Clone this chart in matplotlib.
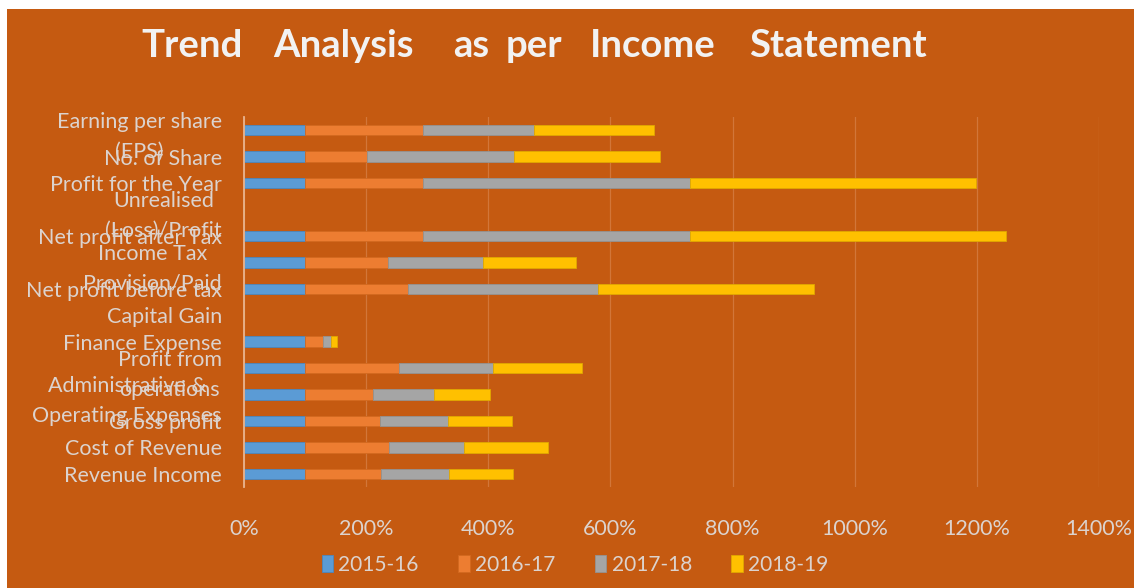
import matplotlib
matplotlib.use("Agg")
import matplotlib.pyplot as plt
from matplotlib.patches import Rectangle, Patch
import numpy as np

# ---------------- data ----------------
categories = [
    "Revenue Income",
    "Cost of Revenue",
    "Gross profit",
    "Administrative &\nOperating Expenses",
    "Profit from\noperations",
    "Finance Expense",
    "Capital Gain",
    "Net profit before tax",
    "Income Tax\nProvision/Paid",
    "Net profit after Tax",
    "Unrealised\n(Loss)/Profit",
    "Profit for the Year",
    "No. of Share",
    "Earning per share\n(EPS)",
]
years = ["2015-16", "2016-17", "2017-18", "2018-19"]
fy2015_16 = [100, 100, 100, 100, 100, 100, 0, 100, 100, 100, 0, 100, 100, 100]
fy2016_17 = [125, 138, 122, 112, 154, 30, 0, 168, 135, 193, 0, 193, 102, 193]
fy2017_18 = [111, 122, 112, 99, 154, 13, 0, 311, 157, 437, 0, 437, 240, 182]
fy2018_19 = [105, 137, 105, 91, 145, 10, 0, 354, 151, 518, 0, 469, 239, 196]
x_ticks = [0, 200, 400, 600, 800, 1000, 1200, 1400]
title_words = ["Trend", "Analysis", "as", "per", "Income", "Statement"]

# ---------------- style ----------------
W, H = 1134, 588
BG = "#C55A11"
TXT = "#DCD3CE"
colors = ["#5B9BD5", "#ED7D31", "#A5A5A5", "#FFC000"]
edges = ["#4A86BE", "#D2691F", "#939393", "#E0A800"]
FONT = "Lato"

fig = plt.figure(figsize=(W / 100, H / 100), dpi=100, facecolor="white")
fig.patches.append(Rectangle((7 / W, 0), 1 - 7 / W, 1 - 9 / H,
                             transform=fig.transFigure, facecolor=BG,
                             edgecolor="none", zorder=-10))

ax = fig.add_axes([244 / W, 1 - 487 / H, (1099 - 244) / W, 370 / H])
ax.set_facecolor("none")

series = [fy2015_16, fy2016_17, fy2017_18, fy2018_19]
y = np.arange(len(categories))
left = np.zeros(len(categories))
for vals, c, ec, lab in zip(series, colors, edges, years):
    v = np.array(vals, dtype=float)
    ax.barh(y, v, left=left, height=0.4, color=c, edgecolor=ec,
            linewidth=0.6, label=lab, zorder=3)
    left += v

ax.set_xlim(0, 1400)
ax.set_ylim(-0.5, len(categories) - 0.5)
ax.set_xticks(x_ticks)
ax.set_xticklabels([f"{t}%" for t in x_ticks], fontfamily=FONT,
                   fontsize=15.5, color=TXT)
ax.set_yticks(y)
ax.set_yticklabels(categories, fontfamily=FONT, fontsize=15.5, color=TXT,
                   linespacing=1.6, multialignment="center")
ax.tick_params(axis="x", length=0, pad=23)
ax.tick_params(axis="y", length=0, pad=16)
ax.grid(axis="x", color="#E39A6A", linewidth=0.9, alpha=0.45, zorder=0)
for s in ["top", "right", "bottom"]:
    ax.spines[s].set_visible(False)
ax.spines["left"].set_color("#E9B48F")
ax.spines["left"].set_linewidth(1.3)
ax.spines["left"].set_zorder(4)

# title, word by word to mimic the wide spacing
word_centers = [192, 343.5, 471, 534, 652.5, 838]
for w, xc in zip(title_words, word_centers):
    fig.text(xc / W, 1 - 46 / H, w, ha="center", va="center",
             fontfamily=FONT, fontweight="bold", fontsize=27.5,
             color="#F2F2F2")

handles = [Patch(facecolor=c, edgecolor=ec, linewidth=0.6)
           for c, ec in zip(colors, edges)]
leg = fig.legend(handles, years, loc="center", bbox_to_anchor=(575 / W, 1 - 565 / H),
                 ncol=4, frameon=False, handlelength=0.55, handleheight=0.85,
                 handletextpad=0.25, columnspacing=1.9,
                 prop={"family": FONT, "size": 15})
for t in leg.get_texts():
    t.set_color(TXT)

fig.savefig("out.png", dpi=100, facecolor="white")
